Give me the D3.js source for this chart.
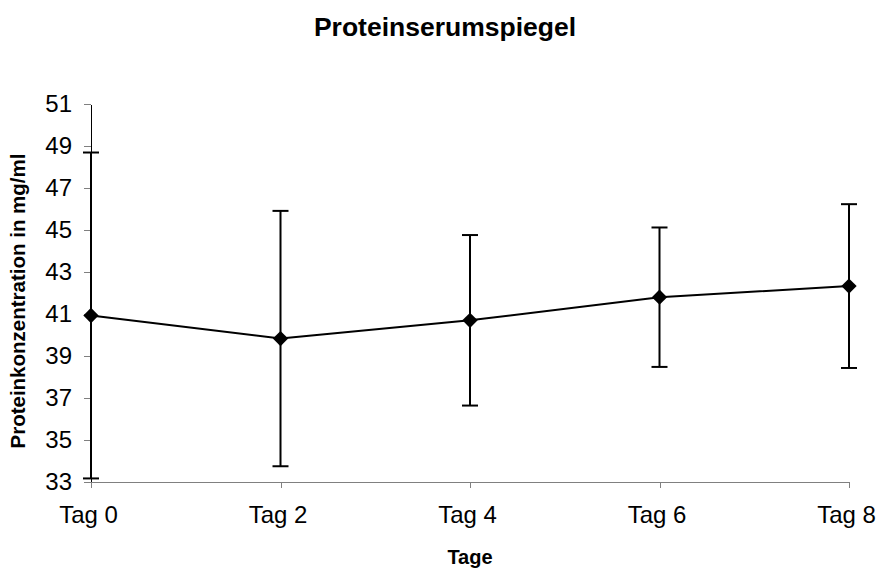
<!DOCTYPE html>
<html lang="de">
<head>
    <meta charset="UTF-8">
    <title>Proteinserumspiegel</title>
    <script src="https://cdn.jsdelivr.net/npm/d3@7/dist/d3.min.js"></script>
    <style>
        body {
            margin: 0;
            padding: 0;
            background: #fff;
        }
        text {
            font-family: Arial, "Liberation Sans", sans-serif;
            fill: #000;
        }
        .axis path, .axis line {
            stroke: #808080;
            shape-rendering: crispEdges;
        }
        .axis text {
            font-size: 24px;
        }
    </style>
</head>
<body>
<svg width="884" height="569"></svg>
<script>
    // Werte
    var tage = ['Tag 0', 'Tag 2', 'Tag 4', 'Tag 6', 'Tag 8'];
    var mittelwerte = [40.93, 39.83, 40.70, 41.80, 42.33];
    var abweichung = [7.76, 6.08, 4.06, 3.32, 3.90];
    var yTicks = [33, 35, 37, 39, 41, 43, 45, 47, 49, 51];

    var svg = d3.select('svg');

    var x = d3.scalePoint().domain(tage).range([91, 849]);
    var y = d3.scaleLinear().domain([33, 51]).range([482, 104]);

    var daten = tage.map(function (t, i) {
        return {tag: t, m: mittelwerte[i], sd: abweichung[i]};
    });

    // Titel
    svg.append('text')
        .attr('x', 445)
        .attr('y', 36)
        .attr('text-anchor', 'middle')
        .style('font-size', '26.5px')
        .style('font-weight', 'bold')
        .text('Proteinserumspiegel');

    // y-Achse
    var yAxis = svg.append('g')
        .attr('class', 'axis')
        .attr('transform', 'translate(91,0)')
        .call(d3.axisLeft(y).tickValues(yTicks).tickSize(7).tickPadding(12).tickSizeOuter(0));
    yAxis.select('.domain').style('stroke', '#000');

    // x-Achse
    var xAxis = svg.append('g')
        .attr('class', 'axis')
        .attr('transform', 'translate(0,482)')
        .call(d3.axisBottom(x).tickSize(6).tickPadding(18).tickSizeOuter(0));
    xAxis.select('.domain').attr('d', 'M91,0.5H849');
    xAxis.selectAll('.tick text').attr('dx', -3);

    // Achsentitel
    svg.append('text')
        .attr('x', 470)
        .attr('y', 564)
        .attr('text-anchor', 'middle')
        .style('font-size', '20px')
        .style('font-weight', 'bold')
        .text('Tage');

    svg.append('text')
        .attr('transform', 'translate(25,301) rotate(-90)')
        .attr('text-anchor', 'middle')
        .style('font-size', '20.5px')
        .style('font-weight', 'bold')
        .text('Proteinkonzentration in mg/ml');

    // Fehlerbalken
    var fehler = svg.append('g').attr('class', 'fehler');
    fehler.selectAll('line.v').data(daten).enter().append('line')
        .attr('class', 'v')
        .attr('x1', function (d) { return x(d.tag); })
        .attr('x2', function (d) { return x(d.tag); })
        .attr('y1', function (d) { return y(d.m - d.sd); })
        .attr('y2', function (d) { return y(d.m + d.sd); })
        .style('stroke', '#000')
        .style('stroke-width', 2);
    ['oben', 'unten'].forEach(function (seite) {
        fehler.selectAll('line.' + seite).data(daten).enter().append('line')
            .attr('class', seite)
            .attr('x1', function (d) { return x(d.tag) - 8; })
            .attr('x2', function (d) { return x(d.tag) + 8; })
            .attr('y1', function (d) { return y(seite === 'oben' ? d.m + d.sd : d.m - d.sd); })
            .attr('y2', function (d) { return y(seite === 'oben' ? d.m + d.sd : d.m - d.sd); })
            .style('stroke', '#000')
            .style('stroke-width', 2);
    });

    // Linie
    var linie = d3.line()
        .x(function (d) { return x(d.tag); })
        .y(function (d) { return y(d.m); });
    svg.append('path')
        .datum(daten)
        .attr('d', linie)
        .style('fill', 'none')
        .style('stroke', '#000')
        .style('stroke-width', 2);

    // Rauten
    svg.selectAll('path.raute').data(daten).enter().append('path')
        .attr('class', 'raute')
        .attr('d', d3.symbol().type(d3.symbolDiamond2).size(150))
        .attr('transform', function (d) { return 'translate(' + x(d.tag) + ',' + y(d.m) + ')'; })
        .style('fill', '#000');
</script>
</body>
</html>
